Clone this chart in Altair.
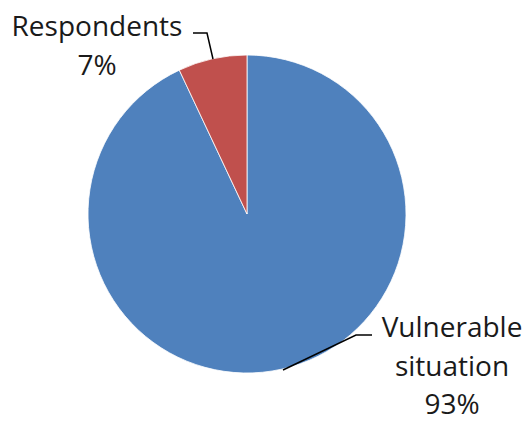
import altair as alt
import pandas as pd

# ---- data ----
categories = ["Vulnerable situation", "Respondents"]
values = [93, 7]
colors = ["#4F81BD", "#C0504D"]

# label layout (annotation positions in plot pixels)
label_x = [452, 97]
label_y = [331, 30]
# leader lines: list of (label, x, y) vertices
leader_pts = [
    ("Vulnerable situation", 0, 372, 329),
    ("Vulnerable situation", 1, 356, 329),
    ("Vulnerable situation", 2, 283, 364),
    ("Respondents", 0, 193, 27),
    ("Respondents", 1, 207, 27),
    ("Respondents", 2, 213, 53),
]

W, H = 494, 416

df = pd.DataFrame({
    "category": categories,
    "value": values,
    "order": list(range(len(categories))),
})
df["label"] = [f"{c} {v}%" for c, v in zip(categories, values)]
df["lx"] = label_x
df["ly"] = label_y

lines_df = pd.DataFrame(leader_pts, columns=["category", "i", "x", "y"])

color_scale = alt.Scale(domain=categories, range=colors)

pie = alt.Chart(df).mark_arc(outerRadius=159, stroke="#ffffff", strokeWidth=0.8).encode(
    theta=alt.Theta("value:Q", stack=True),
    color=alt.Color("category:N", scale=color_scale, legend=None),
    order=alt.Order("order:Q"),
)

text = alt.Chart(df).mark_text(
    font="Open Sans", fontSize=28, align="center", baseline="alphabetic",
    lineBreak=" ", lineHeight=38.5, color="#1a1a1a",
).encode(
    x=alt.X("lx:Q", scale=None),
    y=alt.Y("ly:Q", scale=None),
    text="label:N",
)

leaders = alt.Chart(lines_df).mark_line(color="#000000", strokeWidth=1.5).encode(
    x=alt.X("x:Q", scale=None),
    y=alt.Y("y:Q", scale=None),
    detail="category:N",
    order="i:Q",
)

chart = alt.layer(pie, leaders, text).properties(
    width=W, height=H,
    background="#ffffff",
    autosize=alt.AutoSizeParams(type="none"),
    padding={"left": 0, "top": 6, "right": 34, "bottom": 0},
).configure_view(strokeWidth=0, stroke="transparent")

chart.save("out.html", embed_options={"renderer": "svg", "actions": False})
